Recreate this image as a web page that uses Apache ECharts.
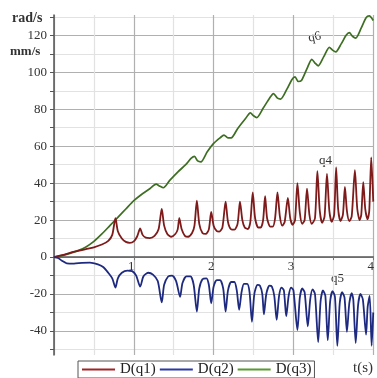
<!DOCTYPE html>
<html><head><meta charset="utf-8">
<script src="https://cdn.jsdelivr.net/npm/echarts@6/dist/echarts.min.js"></script>
<style>html,body{margin:0;padding:0;background:#fff}#c{width:377px;height:378px}</style>
</head><body><div id="c"></div>
<script>
// Series data: [t (s), value]
const q1Data = [
 [0,0],[0.1,1],[0.2,2.3],[0.3,3.3],[0.4,4.3],[0.5,5.3],[0.6,6.8],[0.68,8.8],[0.73,12],[0.77,21],
 [0.8,14],[0.85,10],[0.9,8.2],[0.95,7.7],[1.0,8.5],[1.04,11],[1.08,15.5],
 [1.11,12],[1.15,10.5],[1.2,10.3],[1.26,11.5],[1.31,15],[1.35,26],
 [1.38,17],[1.42,12.5],[1.47,11],[1.52,12.5],[1.55,15],[1.57,21],
 [1.6,15],[1.64,11.5],[1.68,11],[1.73,13],[1.76,17],[1.79,30.5],
 [1.82,18],[1.86,13],[1.9,12.5],[1.94,15],[1.97,24.5],
 [2.0,17],[2.04,14],[2.07,13.8],[2.11,16],[2.15,30],
 [2.18,19],[2.22,15],[2.26,14.8],[2.3,18],[2.33,30],
 [2.36,20],[2.39,16],[2.43,15.2],[2.46,19],[2.49,35],
 [2.52,21],[2.56,16],[2.59,16],[2.62,20],[2.645,33],
 [2.67,21],[2.71,16.5],[2.74,16.5],[2.77,21],[2.8,35],
 [2.83,22],[2.86,17],[2.89,19],[2.93,32],
 [2.96,21],[2.99,17.5],[3.02,20],[3.05,40],
 [3.08,24],[3.11,18],[3.14,20],[3.17,37],
 [3.2,23],[3.23,18],[3.27,21],[3.3,46.5],
 [3.33,25],[3.36,18.5],[3.39,22],[3.42,45],
 [3.45,25],[3.48,19],[3.51,23],[3.535,48.5],
 [3.56,26],[3.59,19.5],[3.62,23],[3.645,38],
 [3.67,25],[3.7,19.5],[3.73,22],[3.77,47],
 [3.8,26],[3.83,20],[3.85,23],[3.875,40.5],
 [3.9,26],[3.93,20.5],[3.95,25],[3.975,54],[4.0,30]
];
const q2Data = [
 [0,0],[0.05,-0.5],[0.1,-2],[0.16,-3.4],[0.25,-3.5],[0.35,-3.1],[0.45,-3],[0.55,-4],[0.62,-5.5],
 [0.68,-8.5],[0.73,-11.5],[0.77,-16.5],[0.8,-11.5],[0.85,-8.5],[0.92,-7.3],[0.98,-7.6],[1.03,-10],[1.08,-16],
 [1.12,-10.5],[1.18,-8.5],[1.24,-9.5],[1.3,-13],[1.35,-24.5],
 [1.38,-15],[1.43,-10.5],[1.48,-10],[1.53,-13],[1.58,-21.5],
 [1.61,-14],[1.66,-10.5],[1.71,-10.5],[1.75,-15],[1.79,-29.5],
 [1.82,-17],[1.86,-12],[1.91,-11.5],[1.94,-15],[1.97,-25],
 [2.0,-16],[2.04,-12.5],[2.08,-12.5],[2.12,-17],[2.15,-29.5],
 [2.18,-18],[2.22,-13.5],[2.26,-13.5],[2.29,-18],[2.32,-28.5],
 [2.35,-19],[2.38,-14.5],[2.42,-14.5],[2.45,-19],[2.48,-35],
 [2.51,-20],[2.55,-15],[2.58,-15.5],[2.61,-20],[2.63,-31],
 [2.66,-20],[2.7,-15.5],[2.73,-16],[2.76,-21],[2.79,-34],
 [2.82,-21],[2.85,-16.5],[2.88,-18],[2.91,-32],
 [2.94,-21],[2.97,-16.5],[3.0,-18],[3.05,-39.5],
 [3.08,-22],[3.11,-17],[3.14,-19],[3.18,-37.5],
 [3.21,-23],[3.24,-17.5],[3.27,-20],[3.31,-46],
 [3.34,-24],[3.37,-18],[3.4,-21],[3.43,-45],
 [3.46,-24],[3.49,-18.5],[3.52,-21.5],[3.55,-48],
 [3.58,-25],[3.61,-19],[3.64,-22],[3.67,-40.5],
 [3.7,-25],[3.73,-19.5],[3.75,-23],[3.78,-46.5],
 [3.81,-26],[3.84,-20],[3.87,-23],[3.91,-42],
 [3.93,-27],[3.955,-21],[3.98,-48],[4.0,-30]
];
const q3Data = [
 [0,0],[0.1,0.8],[0.2,2],[0.3,3.5],[0.4,5.5],[0.5,8.5],[0.6,12.5],[0.7,17],[0.8,21.5],[0.9,26],
 [1.0,30.5],[1.1,34],[1.2,37],[1.28,39.5],[1.32,38.5],[1.37,37.5],[1.45,41.5],[1.55,46],[1.65,50],
 [1.72,53.5],[1.76,54.5],[1.8,52],[1.84,51.5],[1.92,57],[2.0,61.5],[2.08,64.5],[2.13,66],[2.18,64.5],
 [2.22,64.5],[2.3,69.5],[2.4,75],[2.46,78],[2.5,76.5],[2.54,75.5],[2.62,80.5],[2.7,86],[2.75,88.5],
 [2.8,86],[2.84,85.5],[2.92,91],[2.98,96],[3.02,97.5],[3.06,95],[3.1,95.5],[3.17,102],[3.23,107],
 [3.27,105],[3.31,103.5],[3.38,108.5],[3.45,113.5],[3.49,112],[3.53,111],[3.6,115.5],[3.66,120],
 [3.7,121.5],[3.74,119.5],[3.78,118.5],[3.85,124],[3.91,129.5],[3.95,130.5],[4.0,128]
];
const seriesNames = ['D(q1)', 'D(q2)', 'D(q3)'];
const yTickValues = [-50,-40,-30,-20,-10,0,10,20,30,40,50,60,70,80,90,100,110,120,130];
const yLabelValues = [-40,-20,0,20,40,60,80,100,120];
const xLabelValues = [1,2,3,4];

const Y_MIN = -53, Y_MAX = 131, GRID_TOP = 15, GRID_H = 340;
const zeroOffset = -GRID_H * (0 - Y_MIN) / (Y_MAX - Y_MIN); // move x axis up to value 0

const serif = '"Liberation Serif","DejaVu Serif",serif';
const chart = echarts.init(document.getElementById('c'), null, {renderer:'canvas'});
chart.setOption({
  animation:false,
  backgroundColor:'#fff',
  grid:{left:54, top:GRID_TOP, width:324, height:GRID_H, containLabel:false},
  xAxis:{
    type:'value', min:0, max:4, interval:0.5, position:'bottom', offset:zeroOffset,
    axisLine:{onZero:false, lineStyle:{color:'#555', width:1.5}},
    axisTick:{show:true, length:3, lineStyle:{color:'#777'}},
    axisLabel:{customValues:xLabelValues, color:'#333', fontFamily:serif, fontSize:13, margin:3, padding:[0,5,0,0]},
    splitLine:{show:true, lineStyle:{color:['#b0b0b0','#e2e2e2'], width:1.2}}
  },
  yAxis:{
    type:'value', min:Y_MIN, max:Y_MAX,
    axisLine:{show:true, lineStyle:{color:'#555', width:1.5}},
    axisTick:{show:true, customValues:yTickValues, length:4, lineStyle:{color:'#555'}},
    axisLabel:{customValues:yLabelValues, color:'#333', fontFamily:serif, fontSize:13, margin:7},
    splitLine:{show:true, lineStyle:{color:['#e2e2e2','#b0b0b0'], width:1.2}}
  },
  legend:{
    data:seriesNames, left:78, top:361,
    borderColor:'#555', borderWidth:1, padding:[1,3,1,4],
    itemWidth:33, itemHeight:2, itemGap:4, icon:'rect',
    textStyle:{fontFamily:serif, fontSize:15, color:'#222'}
  },
  graphic:[
    {type:'text', left:12, top:11, style:{text:'rad/s', font:'bold 14px '+serif, fill:'#333'}},
    {type:'text', left:10, top:45, style:{text:'mm/s', font:'bold 13px '+serif, fill:'#333'}},
    {type:'text', left:353, top:361, style:{text:'t(s)', font:'15px '+serif, fill:'#333'}},
    {type:'text', x:307, y:32, rotation:0.2, style:{text:'q6', font:'13px '+serif, fill:'#333'}},
    {type:'text', left:319, top:154, style:{text:'q4', font:'13px '+serif, fill:'#333'}},
    {type:'text', left:331, top:272, style:{text:'q5', font:'13px '+serif, fill:'#333'}}
  ],
  series:[
    {name:seriesNames[0], type:'line', data:q1Data, showSymbol:false, smooth:0.25, color:'#a02525', lineStyle:{width:1.8, color:'#7e1a1a'}, z:3},
    {name:seriesNames[1], type:'line', data:q2Data, showSymbol:false, smooth:0.25, color:'#2a38a8', lineStyle:{width:1.8, color:'#1e2a80'}, z:3},
    {name:seriesNames[2], type:'line', data:q3Data, showSymbol:false, smooth:0.25, color:'#5a9a30', lineStyle:{width:1.7, color:'#3d6e22'}, z:2}
  ]
});
</script></body></html>
